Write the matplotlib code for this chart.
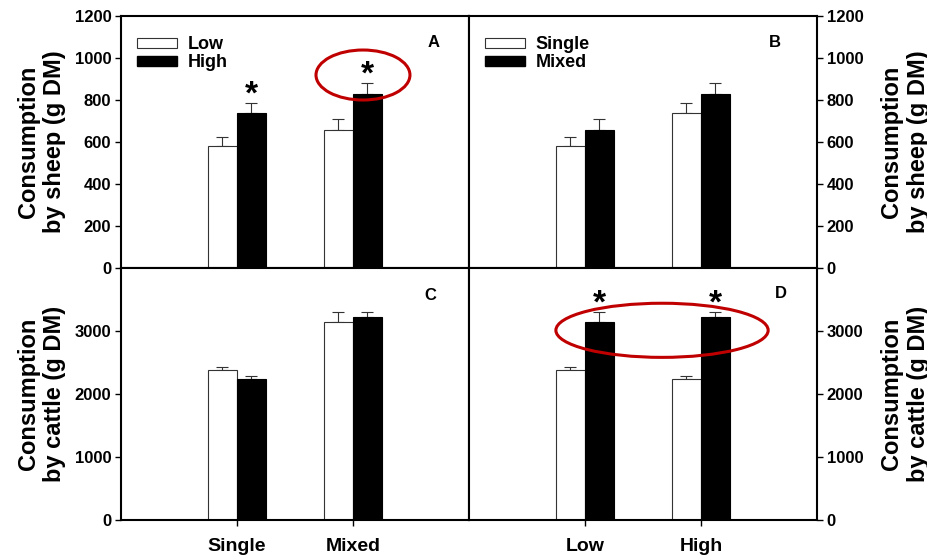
import numpy as np
import matplotlib.pyplot as plt
from matplotlib.patches import Ellipse, Patch

plt.rcParams['font.family'] = ['Liberation Sans', 'DejaVu Sans']
plt.rcParams['font.weight'] = 'bold'

grazing = ["Single", "Mixed"]
level = ["Low", "High"]

# consumption (g DM): rows = level (Low, High), cols = grazing (Single, Mixed)
sheep_mean = np.array([[580, 655], [740, 830]])
sheep_se = np.array([[44, 56], [44, 51]])
cattle_mean = np.array([[2385, 3135], [2235, 3230]])
cattle_se = np.array([[40, 160], [53, 73]])

sheep_label = "Consumption\nby sheep (g DM)"
cattle_label = "Consumption\nby cattle (g DM)"

x = np.array([1, 2])
w = 0.25
red = "#c00000"


def draw_bars(ax, white, white_err, black, black_err):
    ax.bar(x - w / 2, white, w, color="white", edgecolor="#333333", linewidth=0.8, zorder=2)
    ax.bar(x + w / 2, black, w, color="black", edgecolor="black", linewidth=0.8, zorder=2)
    ax.errorbar(x - w / 2, white, yerr=[np.zeros(2), white_err], fmt="none",
                ecolor="#333333", elinewidth=0.8, capsize=4, capthick=0.8, zorder=1)
    ax.errorbar(x + w / 2, black, yerr=[np.zeros(2), black_err], fmt="none",
                ecolor="#333333", elinewidth=0.8, capsize=4, capthick=0.8, zorder=1)
    ax.set_xlim(0, 3)
    for s in ax.spines.values():
        s.set_linewidth(1.5)
    ax.tick_params(axis="y", direction="out", length=4, width=1, labelsize=12, pad=3)
    ax.tick_params(axis="x", direction="out", length=4, width=1, labelsize=14, pad=9)


def star(ax, xs, tops):
    for xi, t in zip(xs, tops):
        ax.annotate("*", (xi, t), xytext=(0, 6), textcoords="offset points",
                    ha="center", va="center", fontsize=24, fontweight="bold")


fig = plt.figure(figsize=(9.28, 5.55), dpi=100)
L, R, W = 121 / 928, 469 / 928, 348 / 928
H = 252 / 555
top_y = 1 - 268 / 555
axA = fig.add_axes([L, top_y, W, H])
axB = fig.add_axes([R, top_y, W, H])
axC = fig.add_axes([L, top_y - H, W, H])
axD = fig.add_axes([R, top_y - H, W, H])

# A: sheep, grouped by grazing, white = Low, black = High
draw_bars(axA, sheep_mean[0], sheep_se[0], sheep_mean[1], sheep_se[1])
# B: sheep, grouped by level, white = Single, black = Mixed
draw_bars(axB, sheep_mean[:, 0], sheep_se[:, 0], sheep_mean[:, 1], sheep_se[:, 1])
# C: cattle, grouped by grazing
draw_bars(axC, cattle_mean[0], cattle_se[0], cattle_mean[1], cattle_se[1])
# D: cattle, grouped by level
draw_bars(axD, cattle_mean[:, 0], cattle_se[:, 0], cattle_mean[:, 1], cattle_se[:, 1])

for ax in (axA, axB):
    ax.set_ylim(0, 1200)
    ax.set_yticks(np.arange(0, 1201, 200))
    ax.set_xticks([])
for ax in (axC, axD):
    ax.set_ylim(0, 4000)
    ax.set_yticks([0, 1000, 2000, 3000])
axC.set_xticks(x)
axC.set_xticklabels(grazing)
axD.set_xticks(x)
axD.set_xticklabels(level)

for ax in (axB, axD):
    ax.yaxis.tick_right()
    ax.yaxis.set_label_position("right")

for ax, lab, pad in [(axA, sheep_label, 6), (axB, sheep_label, 12),
                     (axC, cattle_label, 6), (axD, cattle_label, 12)]:
    ax.set_ylabel(lab, fontsize=17, fontweight="bold", labelpad=pad)

for ax, letter, lx, ly in [(axA, "A", 0.897, 0.893), (axB, "B", 0.879, 0.893),
                           (axC, "C", 0.888, 0.889), (axD, "D", 0.897, 0.897)]:
    ax.text(lx, ly, letter, transform=ax.transAxes, ha="center", va="center",
            fontsize=12, fontweight="bold")

# legends
for ax, names in [(axA, level), (axB, grazing)]:
    handles = [Patch(facecolor="white", edgecolor="#333333", linewidth=0.8),
               Patch(facecolor="black", edgecolor="black")]
    ax.legend(handles, names, loc="upper left", bbox_to_anchor=(0.01, 0.97),
              frameon=False, fontsize=13, handlelength=2.2, handleheight=0.45,
              labelspacing=0.05, handletextpad=0.6, borderpad=0.2)

# significance marks
star(axA, x + w / 2, sheep_mean[1] + sheep_se[1])
star(axD, x + w / 2, cattle_mean[:, 1] + cattle_se[:, 1])

# highlight rings
axA.add_patch(Ellipse((2.086, 919), 0.81, 238, fill=False, edgecolor=red, linewidth=2.2, zorder=5))
axD.add_patch(Ellipse((1.664, 3011), 1.83, 859, fill=False, edgecolor=red, linewidth=2.2, zorder=5))

fig.savefig("out.png", dpi=100)
